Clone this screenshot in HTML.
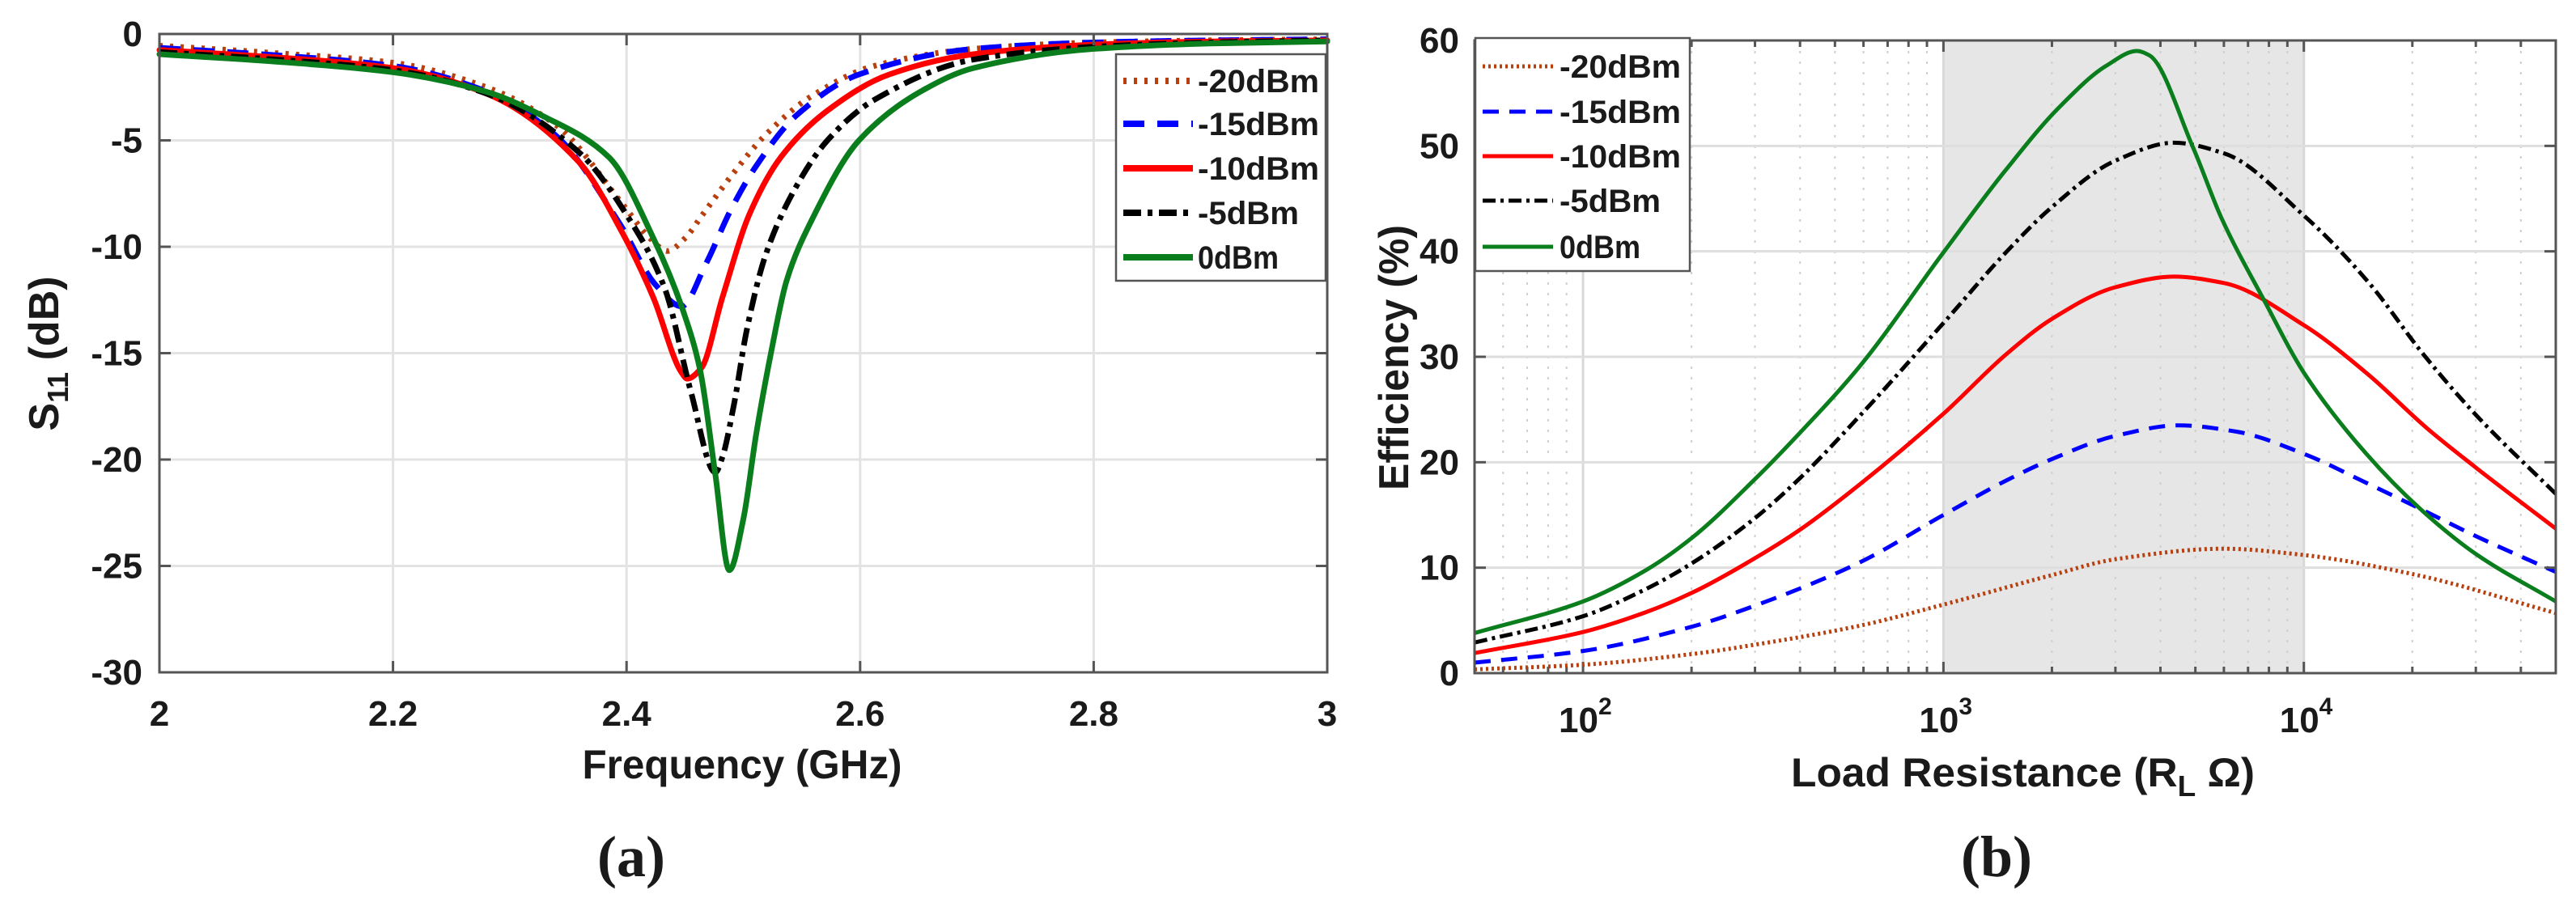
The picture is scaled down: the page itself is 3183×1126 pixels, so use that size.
<!DOCTYPE html>
<html><head><meta charset="utf-8">
<style>
html,body{margin:0;padding:0;background:#fff;}
svg{display:block;}
text{font-family:"Liberation Sans",Arial,sans-serif;fill:#1a1a1a;}
</style></head>
<body>
<svg id="fig" width="3183" height="1126" viewBox="0 0 3183 1126" xmlns="http://www.w3.org/2000/svg">
  <rect x="0" y="0" width="3183" height="1126" fill="#fff"/>
  <g id="pa"></g>
  <g id="pb"></g>
</svg>
<script>
// ---------- Chart (a) data ----------
const aTicksX = [2, 2.2, 2.4, 2.6, 2.8, 3];
const aTicksY = [0, -5, -10, -15, -20, -25, -30];
const aNames = ["-20dBm", "-15dBm", "-10dBm", "-5dBm", "0dBm"];
const aF20 = [2.0, 2.1, 2.2, 2.28, 2.34, 2.398, 2.42, 2.435, 2.45, 2.465, 2.492, 2.518, 2.559, 2.612, 2.697, 2.8, 2.9, 3.0];
const aS20 = [-0.55, -0.9, -1.35, -2.5, -4.3, -8.1, -9.6, -10.2, -9.6, -8.5, -6.5, -4.8, -2.9, -1.5, -0.7, -0.4, -0.3, -0.25];
const aF15 = [2.0, 2.1, 2.2, 2.28, 2.34, 2.394, 2.425, 2.447, 2.468, 2.489, 2.511, 2.546, 2.599, 2.697, 2.8, 2.9, 3.0];
const aS15 = [-0.65, -1.0, -1.5, -2.7, -4.8, -8.9, -11.8, -12.8, -10.8, -8.3, -6.2, -3.8, -1.9, -0.7, -0.4, -0.3, -0.25];
const aF10 = [2.0, 2.1, 2.2, 2.28, 2.359, 2.396, 2.423, 2.447, 2.452, 2.464, 2.482, 2.505, 2.532, 2.572, 2.625, 2.697, 2.8, 2.9, 3.0];
const aS10 = [-0.75, -1.1, -1.6, -2.8, -6.0, -9.3, -12.4, -15.9, -16.2, -15.7, -12.4, -8.5, -5.8, -3.6, -1.9, -0.95, -0.5, -0.35, -0.3];
const aF5 = [2.0, 2.1, 2.2, 2.28, 2.36, 2.40, 2.433, 2.455, 2.476, 2.482, 2.492, 2.503, 2.519, 2.546, 2.572, 2.612, 2.697, 2.8, 2.9, 3.0];
const aS5 = [-0.85, -1.2, -1.7, -2.8, -5.6, -8.5, -12.0, -16.8, -20.6, -19.9, -17.4, -13.9, -10.4, -7.1, -5.0, -3.1, -1.2, -0.6, -0.4, -0.3];
const aF0 = [2.0, 2.1, 2.2, 2.279, 2.33, 2.385, 2.423, 2.449, 2.463, 2.476, 2.488, 2.5, 2.511, 2.524, 2.537, 2.559, 2.599, 2.652, 2.697, 2.8, 2.9, 3.0];
const aS0 = [-0.95, -1.3, -1.8, -2.7, -3.9, -5.8, -9.6, -13.1, -15.8, -20.7, -25.2, -22.8, -18.8, -14.9, -11.6, -8.7, -5.0, -2.7, -1.6, -0.7, -0.45, -0.35];

// ---------- Chart (b) data ----------
const bTicksY = [0, 10, 20, 30, 40, 50, 60];
const bDecades = [2, 3, 4];
const bNames = ["-20dBm", "-15dBm", "-10dBm", "-5dBm", "0dBm"];
const bR20 = [50, 100, 200, 300, 586, 1000, 2000, 3000, 6000, 10000, 20000, 50000];
const bE20 = [0.35, 0.8, 1.8, 2.7, 4.5, 6.5, 9.3, 10.8, 11.8, 11.2, 9.4, 5.7];
const bR15 = [50, 100, 200, 300, 586, 1000, 1500, 2000, 3000, 4500, 6500, 10000, 15000, 21000, 30000, 50000];
const bE15 = [1.0, 2.1, 4.4, 6.4, 10.5, 15.0, 18.3, 20.3, 22.5, 23.5, 22.9, 20.8, 18.0, 15.6, 13.0, 9.6];
const bR10 = [50, 100, 150, 200, 300, 400, 586, 1000, 1500, 2000, 3000, 4360, 6000, 10000, 15000, 22000, 30000, 50000];
const bE10 = [1.9, 3.9, 5.8, 7.6, 10.9, 13.6, 17.9, 24.6, 30.3, 33.6, 36.6, 37.6, 37.0, 33.0, 28.4, 23.2, 19.5, 13.7];
const bR5 = [50, 100, 150, 200, 300, 400, 586, 1000, 1500, 2000, 3000, 4360, 6000, 10000, 15000, 21500, 30000, 50000];
const bE5 = [2.9, 5.4, 8.0, 10.4, 14.7, 18.5, 24.4, 33.2, 40.0, 44.2, 48.6, 50.3, 49.3, 43.4, 37.2, 30.2, 24.5, 17.0];
const bR0 = [50, 100, 150, 200, 300, 400, 586, 1000, 1480, 2100, 2830, 3440, 3720, 4920, 5900, 7800, 10000, 14900, 21000, 30000, 50000];
const bE0 = [3.8, 6.8, 9.8, 12.8, 18.4, 22.8, 29.1, 39.9, 47.6, 53.7, 57.6, 59.0, 58.6, 49.9, 43.2, 35.2, 28.5, 20.8, 15.6, 11.3, 6.8];

const NS = "http://www.w3.org/2000/svg";
function mk(parent, tag, attrs, text) {
  const e = document.createElementNS(NS, tag);
  for (const k in attrs) e.setAttribute(k, attrs[k]);
  if (text !== undefined) e.textContent = text;
  parent.appendChild(e);
  return e;
}
// monotone cubic (Fritsch-Carlson) in pixel space
function smoothPath(pts) {
  const n = pts.length;
  const dx = [], m = [], t = new Array(n);
  for (let i = 0; i < n - 1; i++) {
    dx.push(pts[i + 1][0] - pts[i][0]);
    m.push((pts[i + 1][1] - pts[i][1]) / dx[i]);
  }
  t[0] = m[0]; t[n - 1] = m[n - 2];
  for (let i = 1; i < n - 1; i++) {
    if (m[i - 1] * m[i] <= 0) t[i] = 0;
    else {
      const w1 = 2 * dx[i] + dx[i - 1], w2 = dx[i] + 2 * dx[i - 1];
      t[i] = (w1 + w2) / (w1 / m[i - 1] + w2 / m[i]);
    }
  }
  let d = "M" + pts[0][0].toFixed(1) + "," + pts[0][1].toFixed(1);
  for (let i = 0; i < n - 1; i++) {
    const h = dx[i] / 3;
    d += " C" + (pts[i][0] + h).toFixed(1) + "," + (pts[i][1] + t[i] * h).toFixed(1) + " " +
      (pts[i + 1][0] - h).toFixed(1) + "," + (pts[i + 1][1] - t[i + 1] * h).toFixed(1) + " " +
      pts[i + 1][0].toFixed(1) + "," + pts[i + 1][1].toFixed(1);
  }
  return d;
}

const styles = [
  {c: "#b8400f", dash: "4 9", cap: "butt"},
  {c: "#0000ff", dash: "26 16", cap: "butt"},
  {c: "#ff0000", dash: "", cap: "round"},
  {c: "#000000", dash: "22 8 6 8", cap: "butt"},
  {c: "#0a7d1c", dash: "", cap: "round"}
];

// ===== Chart (a) =====
(function () {
  const g = document.getElementById("pa");
  const L = 197, R = 1640, T = 42, B = 831;
  const xS = f => L + (f - 2) / 1 * (R - L);
  const yS = s => T + (0 - s) / 30 * (B - T);
  aTicksX.forEach(v => {
    const ln = mk(g, "line", {x1: xS(v), x2: xS(v), y1: T, y2: B, stroke: "#e3e3e3", "stroke-width": 3});
    
    
  });
  aTicksY.forEach(v => {
    const ln = mk(g, "line", {x1: L, x2: R, y1: yS(v), y2: yS(v), stroke: "#e3e3e3", "stroke-width": 3});
    
    
  });
  const fs = [aF20, aF15, aF10, aF5, aF0], ss = [aS20, aS15, aS10, aS5, aS0];
  const names = ["series-minus20dbm", "series-minus15dbm", "series-minus10dbm", "series-minus5dbm", "series-0dbm"];
  for (let k = 0; k < 5; k++) {
    const pts = fs[k].map((f, i) => [xS(f), yS(ss[k][i])]);
    const p = mk(g, "path", {d: smoothPath(pts), fill: "none", stroke: styles[k].c, "stroke-width": 7, "stroke-dasharray": styles[k].dash, "stroke-linecap": styles[k].cap, "stroke-linejoin": "round"});
    
    
  }
  const box = mk(g, "rect", {x: L, y: T, width: R - L, height: B - T, fill: "none", stroke: "#555", "stroke-width": 3});
  
  
  aTicksX.forEach(v => {
    mk(g, "line", {x1: xS(v), x2: xS(v), y1: B, y2: B - 14, stroke: "#555", "stroke-width": 3});
    mk(g, "line", {x1: xS(v), x2: xS(v), y1: T, y2: T + 14, stroke: "#555", "stroke-width": 3});
    const t = mk(g, "text", {x: xS(v), y: 897, "text-anchor": "middle", "font-size": 44, "font-weight": "bold"}, String(v));
    
    
  });
  aTicksY.forEach(v => {
    mk(g, "line", {x1: L, x2: L + 14, y1: yS(v), y2: yS(v), stroke: "#555", "stroke-width": 3});
    mk(g, "line", {x1: R, x2: R - 14, y1: yS(v), y2: yS(v), stroke: "#555", "stroke-width": 3});
    const t = mk(g, "text", {x: 176, y: yS(v) + 15, "text-anchor": "end", "font-size": 44, "font-weight": "bold"}, String(v));
    
    
  });
  const lg = mk(g, "g", {});
  
  
  mk(lg, "rect", {x: 1379, y: 67, width: 259, height: 280, fill: "#fff", stroke: "#555", "stroke-width": 2.5});
  const ly = [100, 153, 208, 263, 318];
  for (let k = 0; k < 5; k++) {
    const e = mk(lg, "g", {});
    
    
    mk(e, "line", {x1: 1388, x2: 1474, y1: ly[k], y2: ly[k], stroke: styles[k].c, "stroke-width": 8, "stroke-dasharray": styles[k].dash});
    mk(e, "text", {x: 1480, y: ly[k] + 14, "font-size": 40, "font-weight": "bold", textLength: aNames[k].length * 25, lengthAdjust: "spacingAndGlyphs"}, aNames[k]);
  }
})();

// ===== Chart (b) =====
(function () {
  const g = document.getElementById("pb");
  const L = 1822, R = 3158, T = 50, B = 832;
  const lmin = Math.log10(50), lmax = Math.log10(50000);
  const xS = r => L + (Math.log10(r) - lmin) / (lmax - lmin) * (R - L);
  const yS = e => B - e / 60 * (B - T);
  const band = mk(g, "rect", {x: xS(1000), y: T, width: xS(10000) - xS(1000), height: B - T, fill: "#e6e6e6", stroke: "#c4c4c4", "stroke-width": 2});
  
  
  for (let d = 1; d <= 4; d++) {
    for (let m = 1; m <= 9; m++) {
      const r = m * Math.pow(10, d);
      if (r < 50 || r > 50000) continue;
      const major = m === 1;
      const ln = mk(g, "line", {x1: xS(r), x2: xS(r), y1: T, y2: B, stroke: major ? "#d8d8d8" : "#cfcfcf", "stroke-width": major ? 3 : 2, "stroke-dasharray": major ? "" : "3 10"});
      
      
      mk(g, "line", {x1: xS(r), x2: xS(r), y1: B, y2: B - (major ? 14 : 8), stroke: "#555", "stroke-width": 3});
      mk(g, "line", {x1: xS(r), x2: xS(r), y1: T, y2: T + (major ? 14 : 8), stroke: "#555", "stroke-width": 3});
    }
  }
  bTicksY.forEach(v => {
    const ln = mk(g, "line", {x1: L, x2: R, y1: yS(v), y2: yS(v), stroke: "#dedede", "stroke-width": 3});
    
    
  });
  const rs = [bR20, bR15, bR10, bR5, bR0], es = [bE20, bE15, bE10, bE5, bE0];
  const names = ["series-minus20dbm", "series-minus15dbm", "series-minus10dbm", "series-minus5dbm", "series-0dbm"];
  const bst = [{dash: "3 4"}, {dash: "20 13"}, {dash: ""}, {dash: "16 6 4 6"}, {dash: ""}];
  for (let k = 0; k < 5; k++) {
    const pts = rs[k].map((r, i) => [xS(r), yS(es[k][i])]);
    const p = mk(g, "path", {d: smoothPath(pts), fill: "none", stroke: styles[k].c, "stroke-width": 5, "stroke-dasharray": bst[k].dash, "stroke-linejoin": "round"});
    
    
  }
  const box = mk(g, "rect", {x: L, y: T, width: R - L, height: B - T, fill: "none", stroke: "#555", "stroke-width": 3});
  
  
  bTicksY.forEach(v => {
    mk(g, "line", {x1: L, x2: L + 14, y1: yS(v), y2: yS(v), stroke: "#555", "stroke-width": 3});
    mk(g, "line", {x1: R, x2: R - 14, y1: yS(v), y2: yS(v), stroke: "#555", "stroke-width": 3});
    const t = mk(g, "text", {x: 1803, y: yS(v) + 15, "text-anchor": "end", "font-size": 44, "font-weight": "bold"}, String(v));
    
    
  });
  bDecades.forEach(d => {
    const x = xS(Math.pow(10, d));
    const t = mk(g, "text", {x: x - 30, y: 905, "font-size": 44, "font-weight": "bold"});
    
    
    mk(t, "tspan", {}, "10");
    mk(t, "tspan", {dy: -22, "font-size": 30}, String(d));
  });
  const lg = mk(g, "g", {});
  
  
  mk(lg, "rect", {x: 1823, y: 47, width: 265, height: 288, fill: "#fff", stroke: "#555", "stroke-width": 2.5});
  const ly = [82, 138, 193, 248, 305];
  for (let k = 0; k < 5; k++) {
    const e = mk(lg, "g", {});
    
    
    mk(e, "line", {x1: 1832, x2: 1919, y1: ly[k], y2: ly[k], stroke: styles[k].c, "stroke-width": 5, "stroke-dasharray": bst[k].dash});
    mk(e, "text", {x: 1927, y: ly[k] + 14, "font-size": 40, "font-weight": "bold", textLength: bNames[k].length * 25, lengthAdjust: "spacingAndGlyphs"}, bNames[k]);
  }
})();
</script>
<svg style="position:absolute;left:0;top:0" width="3183" height="1126" viewBox="0 0 3183 1126" xmlns="http://www.w3.org/2000/svg">
  <text x="917" y="962" text-anchor="middle" font-size="50" font-weight="bold" textLength="395" lengthAdjust="spacingAndGlyphs">Frequency (GHz)</text>
  <text transform="translate(72,437) rotate(-90)" text-anchor="middle" font-size="52" font-weight="bold">S<tspan dy="12" font-size="36">11</tspan><tspan dy="-12"> (dB)</tspan></text>
  <text x="780" y="1083" text-anchor="middle" font-size="72" font-weight="bold" style="font-family:'Liberation Serif',serif">(a)</text>
  <text x="2213" y="972" font-size="50" font-weight="bold" textLength="573" lengthAdjust="spacingAndGlyphs">Load Resistance (R<tspan dy="12" font-size="36">L</tspan><tspan dy="-12">  Ω)</tspan></text>
  <text transform="translate(1740,442) rotate(-90)" text-anchor="middle" font-size="52" font-weight="bold" textLength="328" lengthAdjust="spacingAndGlyphs">Efficiency (%)</text>
  <text x="2467" y="1083" text-anchor="middle" font-size="72" font-weight="bold" style="font-family:'Liberation Serif',serif">(b)</text>
</svg>
</body></html>
